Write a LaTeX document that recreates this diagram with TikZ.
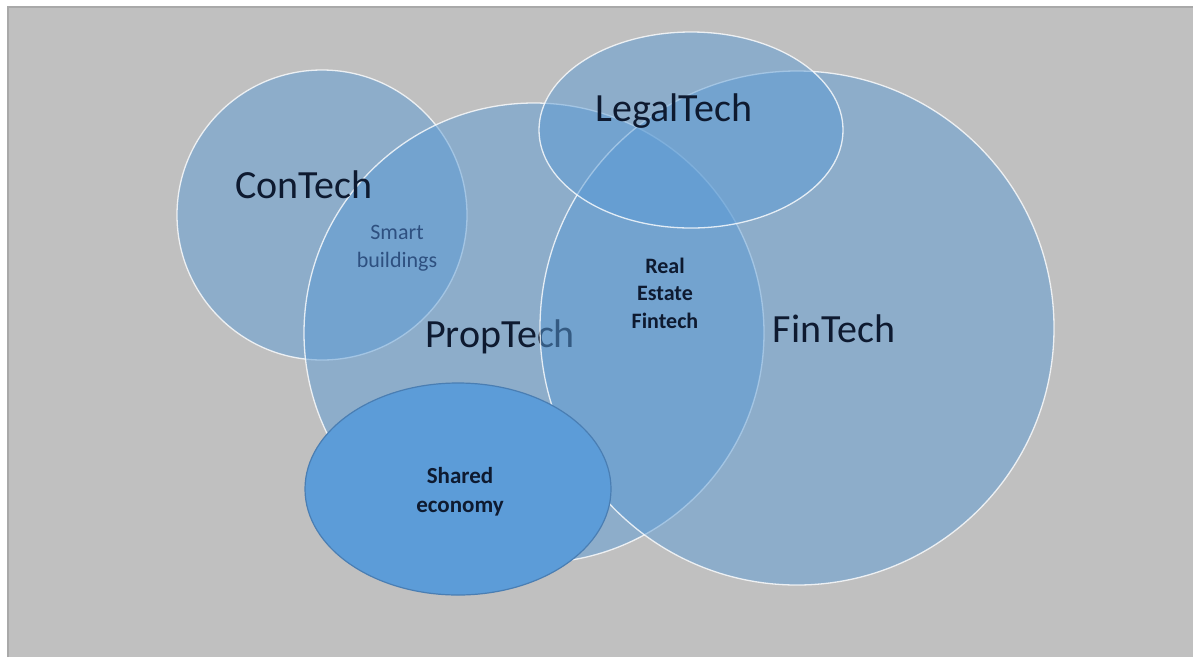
\documentclass[tikz,border=0pt]{standalone}
\usepackage{fontspec}
\setmainfont{Carlito}
\definecolor{bggray}{HTML}{C0C0C0}
\definecolor{bgedge}{HTML}{A9A9A9}
\definecolor{setblue}{HTML}{5B9BD5}
\definecolor{sharedblue}{HTML}{5C9CD8}
\definecolor{setedge}{HTML}{4A7EB3}
\definecolor{txtdark}{HTML}{0E1A30}
\definecolor{txtsoft}{HTML}{2E5080}
\tikzset{
  setcircle/.style={fill=setblue, fill opacity=0.5, draw=white, draw opacity=0.8, line width=1.3pt},
  bigtext/.style={font=\fontsize{40}{48}\selectfont, text=txtdark, anchor=base, inner sep=0pt},
  smalltext/.style={font=\fontsize{22}{28.5}\selectfont, align=center, inner sep=0pt},
}
\begin{document}
\begin{tikzpicture}[x=1pt, y=-1pt]
\useasboundingbox (0,0) rectangle (1198,657);
\fill[white] (0,0) rectangle (1198,657);
\fill[bggray] (8,7) rectangle (1193,657);
\draw[bgedge, line width=1.5pt] (8,657) -- (8,7) -- (1193,7);
% sets
\path[setcircle] (322,215) circle[radius=145];
\path[setcircle] (534,333) circle[radius=230];
\node[bigtext] (prop) at (500,347) {PropTech};
\path[setcircle] (797,328) circle[radius=257];
\path[setcircle] (691,130) ellipse[x radius=152, y radius=98];
\path[fill=sharedblue, draw=setedge, line width=1.2pt] (458,489) ellipse[x radius=153, y radius=106];
% labels
\node[bigtext] (con) at (304,198) {ConTech};
\node[bigtext] (legal) at (674,121) {LegalTech};
\node[bigtext] (fin) at (834,342) {FinTech};
\node[smalltext, text=txtsoft] (smart) at (397,248) {Smart\\buildings};
\node[smalltext, text=txtdark, font=\fontsize{22}{27.5}\selectfont\bfseries] (refin) at (665,293) {Real\\Estate\\Fintech};
\node[smalltext, text=txtdark, font=\fontsize{23}{29}\selectfont\bfseries] (shared) at (460,492) {Shared\\economy};
\end{tikzpicture}
\end{document}
